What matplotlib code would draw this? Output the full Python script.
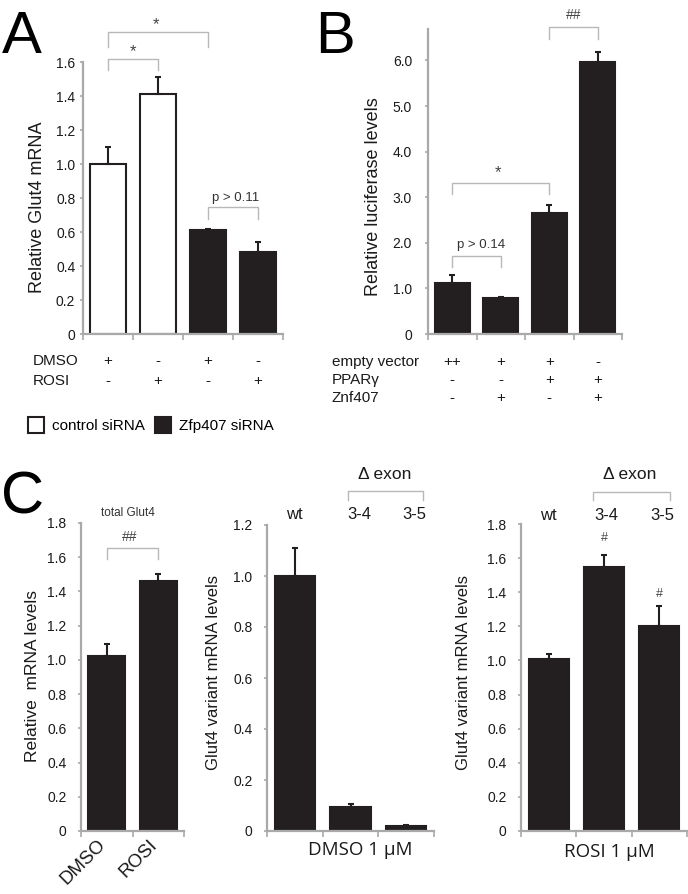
import matplotlib
matplotlib.use('Agg')
import matplotlib.pyplot as plt
import matplotlib.transforms as mtransforms
import numpy as np

plt.rcParams['font.family'] = ['Liberation Sans', 'DejaVu Sans']

# ---- data ----
# panel A: Glut4 mRNA, control vs Zfp407 siRNA
a_vals = [1.00, 1.41, 0.61, 0.48]
a_err = [0.10, 0.10, 0.01, 0.06]
a_colors = ['white', 'white', '#231f20', '#231f20']
a_dmso = ['+', '-', '+', '-']
a_rosi = ['-', '+', '-', '+']
legend_labels = ['control siRNA', 'Zfp407 siRNA']

# panel B: luciferase
b_vals = [1.12, 0.80, 2.65, 5.97]
b_err = [0.17, 0.02, 0.17, 0.21]
b_empty = ['++', '+', '+', '-']
b_ppar = ['-', '-', '+', '+']
b_znf = ['-', '+', '-', '+']

# panel C
c1_labels = ['DMSO', 'ROSI']
c1_vals = [1.02, 1.46]
c1_err = [0.07, 0.04]
c_variants = ['wt', '3-4', '3-5']
c2_vals = [1.00, 0.094, 0.018]
c2_err = [0.11, 0.012, 0.005]
c3_vals = [1.01, 1.55, 1.20]
c3_err = [0.03, 0.07, 0.12]

W, H = 688, 894
fig = plt.figure(figsize=(W / 100, H / 100), dpi=100)

BAR = '#231f20'
AXC = '#a9a9a9'
BRC = '#b8b8b8'
TXT = '#1a1a1a'


def add_ax(x0, x1, ybase, ytop):
    return fig.add_axes([x0 / W, 1 - ybase / H, (x1 - x0) / W, (ybase - ytop) / H])


def style(ax, n, ymax, yticks, ylabels, pad):
    ax.set_xlim(-0.5, n - 0.5)
    ax.set_ylim(0, ymax)
    for s in ['top', 'right']:
        ax.spines[s].set_visible(False)
    for s in ['left', 'bottom']:
        ax.spines[s].set_color(AXC)
        ax.spines[s].set_linewidth(1.6)
    ax.set_xticks(np.arange(n + 1) - 0.5)
    ax.set_xticklabels([])
    ax.set_yticks(yticks)
    ax.set_yticklabels(ylabels)
    ax.tick_params(axis='x', length=4, width=1.2, color=AXC)
    ax.tick_params(axis='y', length=2.5, width=1.2, color=AXC,
                   labelsize=10, labelcolor=TXT, pad=pad)
    ax.patch.set_alpha(0)


def bars(ax, vals, err, colors=BAR):
    x = np.arange(len(vals))
    b = ax.bar(x, vals, width=0.72, color=colors, edgecolor=BAR,
               linewidth=1.5, zorder=2)
    ax.errorbar(x, vals, yerr=[np.zeros(len(vals)), err], fmt='none',
                ecolor=BAR, elinewidth=1.5, capsize=2, capthick=1.5, zorder=3)
    return b


def bracket(ax, x0, x1, ytop, ydrop):
    ax.plot([x0, x0, x1, x1], [ydrop, ytop, ytop, ydrop], color=BRC,
            lw=1, clip_on=False)


def ftext(x, y, s, **kw):
    fig.text(x / W, 1 - y / H, s, **kw)


def rows(ax, y, vals, size=11):
    tr = mtransforms.blended_transform_factory(ax.transData, fig.transFigure)
    for i, v in enumerate(vals):
        ax.text(i, 1 - y / H, v, transform=tr, ha='center', va='center',
                fontsize=size, color=TXT)


# ---- panel A ----
axA = add_ax(83, 283, 334, 62)
style(axA, 4, 1.6, np.arange(0, 1.61, 0.2),
      ['0'] + ['%.1f' % v for v in np.arange(0.2, 1.61, 0.2)], 3)
barsA = bars(axA, a_vals, a_err, a_colors)
bracket(axA, 0, 1, 1.618, 1.553)
axA.text(0.5, 1.66, '*', ha='center', va='center', fontsize=12, color='#444')
bracket(axA, 0, 2, 1.776, 1.688)
axA.text(0.95, 1.82, '*', ha='center', va='center', fontsize=12, color='#444')
bracket(axA, 2, 3, 0.747, 0.676)
axA.text(2.55, 0.80, 'p > 0.11', ha='center', va='center', fontsize=9.5, color='#333')
ftext(38, 207, 'Relative Glut4 mRNA', rotation=90, ha='center', va='center',
      fontsize=13, color=TXT)
ftext(33, 361, 'DMSO', ha='left', va='center', fontsize=11, color=TXT)
ftext(33, 381, 'ROSI', ha='left', va='center', fontsize=11, color=TXT)
rows(axA, 361, a_dmso)
rows(axA, 381, a_rosi)
fig.legend([barsA[0], barsA[2]], legend_labels, loc='center left',
           bbox_to_anchor=(28 / W, 1 - 425 / H), ncol=2, frameon=False,
           fontsize=11, handlelength=1.05, handleheight=1.2,
           handletextpad=0.5, columnspacing=0.7, borderpad=0, borderaxespad=0)

# ---- panel B ----
axB = add_ax(428, 622, 334, 29)
style(axB, 4, 6.69, np.arange(0, 7), ['0'] + ['%.1f' % v for v in range(1, 7)], 9)
bars(axB, b_vals, b_err)
bracket(axB, 0, 1, 1.71, 1.47)
axB.text(0.6, 1.95, 'p > 0.14', ha='center', va='center', fontsize=9.5, color='#333')
bracket(axB, 0, 2, 3.31, 3.08)
axB.text(0.95, 3.55, '*', ha='center', va='center', fontsize=12, color='#444')
bracket(axB, 2, 3, 6.73, 6.47)
axB.text(2.5, 7.0, '##', ha='center', va='center', fontsize=10, color='#444')
ftext(373, 197, 'Relative luciferase levels', rotation=90, ha='center',
      va='center', fontsize=13, color=TXT)
ftext(332, 362, 'empty vector', ha='left', va='center', fontsize=11, color=TXT)
ftext(332, 380, 'PPARγ', ha='left', va='center', fontsize=11, color=TXT)
ftext(332, 398, 'Znf407', ha='left', va='center', fontsize=11, color=TXT)
rows(axB, 362, b_empty)
rows(axB, 380, b_ppar)
rows(axB, 398, b_znf)

# ---- panel C1 ----
axC1 = add_ax(81, 184, 831, 523)
style(axC1, 2, 1.8, np.arange(0, 1.81, 0.2),
      ['0'] + ['%.1f' % v for v in np.arange(0.2, 1.81, 0.2)], 8)
bars(axC1, c1_vals, c1_err)
bracket(axC1, 0, 1, 1.655, 1.59)
axC1.text(0.45, 1.72, '##', ha='center', va='center', fontsize=10, color='#444')
axC1.text(0.42, 1.86, 'total Glut4', ha='center', va='center', fontsize=8.5, color='#333')
trC1 = mtransforms.blended_transform_factory(axC1.transData, fig.transFigure)
for i, lab in enumerate(c1_labels):
    axC1.text(i + 0.05, 1 - 836 / H, lab, transform=trC1, rotation=45,
              ha='right', va='top', fontsize=13.5, color=TXT)
ftext(33, 676, 'Relative  mRNA levels', rotation=90, ha='center', va='center',
      fontsize=12.5, color=TXT)

# ---- panel C2 ----
axC2 = add_ax(267, 434, 831, 525)
style(axC2, 3, 1.2, np.arange(0, 1.21, 0.2),
      ['0'] + ['%.1f' % v for v in np.arange(0.2, 1.21, 0.2)], 8)
bars(axC2, c2_vals, c2_err)
for i, lab in enumerate(c_variants):
    axC2.text(i + (0.15 if i else 0), 1.24, lab, ha='center', va='center',
              fontsize=12, color=TXT, clip_on=False)
bracket(axC2, 0.95, 2.3, 1.333, 1.30)
axC2.text(1.62, 1.40, 'Δ exon', ha='center', va='center', fontsize=12.5, color=TXT)
ftext(213, 672, 'Glut4 variant mRNA levels', rotation=90, ha='center',
      va='center', fontsize=12, color=TXT)
ftext(360, 850, 'DMSO 1 μM', ha='center', va='center', fontsize=13.5,
      color=TXT, family=['Open Sans', 'DejaVu Sans'])

# ---- panel C3 ----
axC3 = add_ax(521, 687, 831, 524)
style(axC3, 3, 1.8, np.arange(0, 1.81, 0.2),
      ['0'] + ['%.1f' % v for v in np.arange(0.2, 1.81, 0.2)], 8)
bars(axC3, c3_vals, c3_err)
for i, lab in enumerate(c_variants):
    axC3.text(i + (0.05 if i else 0), 1.85, lab, ha='center', va='center',
              fontsize=12, color=TXT, clip_on=False)
bracket(axC3, 0.8, 2.2, 1.99, 1.94)
axC3.text(1.47, 2.09, 'Δ exon', ha='center', va='center', fontsize=12.5, color=TXT)
axC3.text(1.0, 1.72, '#', ha='center', va='center', fontsize=9, color='#444')
axC3.text(2.0, 1.39, '#', ha='center', va='center', fontsize=9, color='#444')
ftext(463, 672, 'Glut4 variant mRNA levels', rotation=90, ha='center',
      va='center', fontsize=12, color=TXT)
ftext(609, 852, 'ROSI 1 μM', ha='center', va='center', fontsize=13.5,
      color=TXT, family=['Open Sans', 'DejaVu Sans'])

# ---- panel letters ----
ftext(2, 53, 'A', fontsize=43, va='baseline', ha='left')
ftext(315, 53, 'B', fontsize=43, va='baseline', ha='left')
ftext(1, 514, 'C', fontsize=43, va='baseline', ha='left')

fig.savefig('out.png', dpi=100)
